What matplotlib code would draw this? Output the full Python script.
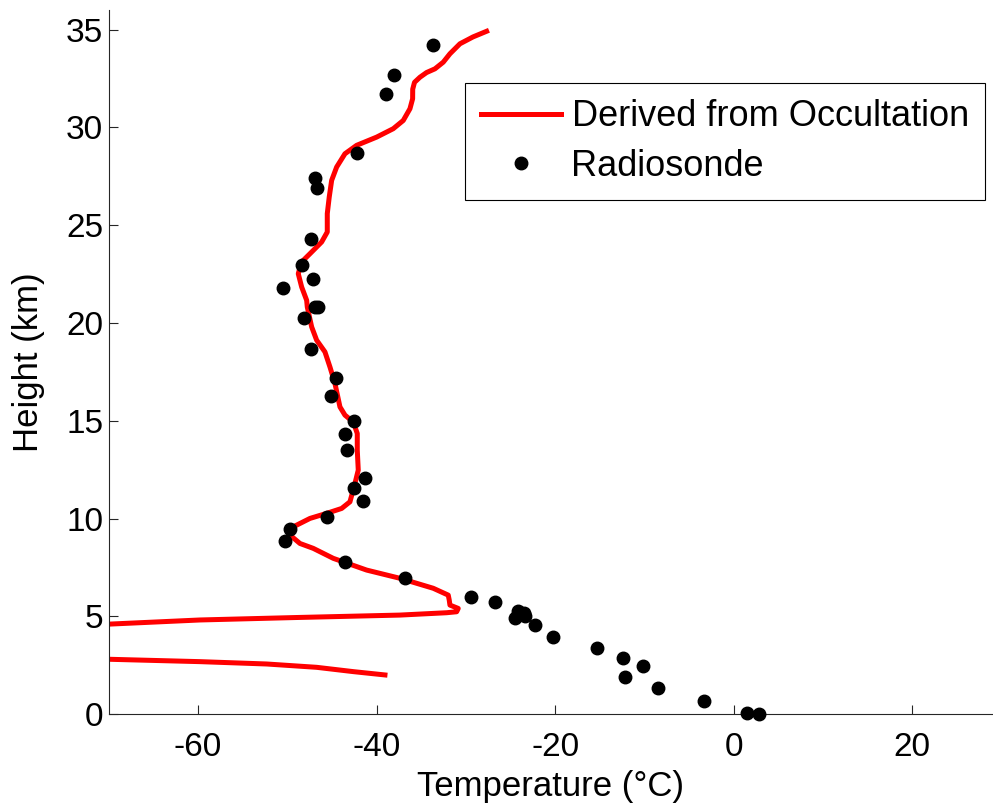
import numpy as np
import matplotlib
matplotlib.use('Agg')
import matplotlib.pyplot as plt

plt.rcParams['font.family'] = ['Liberation Sans', 'DejaVu Sans']
plt.rcParams['axes.unicode_minus'] = False

# Occultation-derived profile (upper part, down to where it leaves the axes)
occ_temp = [-27.67, -29.2, -30.66, -31.78, -32.53, -33.46, -34.4, -35.14, -35.75, -35.95,
            -35.96, -36.26, -37.01, -38.13, -39.99, -42.23, -43.54, -44.47, -45.03, -45.30,
            -45.52, -45.52, -46.15, -47.46, -48.39, -48.77, -48.39, -47.83, -47.76, -47.27,
            -46.71, -45.78, -45.22, -44.66, -44.10, -43.54, -42.61, -42.16, -42.16, -42.05,
            -42.42, -42.98, -43.91, -45.59, -47.46, -49.33, -49.70, -48.58, -47.09, -44.85,
            -41.11, -37.38, -33.65, -31.97, -31.86, -31.78, -30.85, -31.03, -32.15, -37.38,
            -48.58, -59.78, -69.85, -71.0]
occ_height = [34.91, 34.62, 34.27, 33.76, 33.33, 32.99, 32.8, 32.56, 32.3, 31.95,
              31.46, 30.95, 30.35, 29.93, 29.50, 29.08, 28.65, 27.97, 27.29, 26.44,
              25.59, 24.65, 24.14, 23.54, 23.12, 22.52, 21.84, 21.16, 20.82, 19.80,
              19.12, 18.52, 17.75, 16.91, 15.71, 15.29, 14.94, 14.35, 13.50, 12.48,
              11.80, 10.86, 10.52, 10.27, 10.01, 9.58, 9.16, 8.73, 8.48, 7.97,
              7.37, 6.95, 6.44, 6.09, 5.84, 5.58, 5.41, 5.24, 5.19, 5.07,
              4.95, 4.82, 4.61, 4.58]

# lower piece of the occultation profile
occ_low_temp = [-71.0, -69.85, -59.78, -52.31, -46.71, -42.61, -39.06]
occ_low_height = [2.85, 2.81, 2.69, 2.57, 2.40, 2.18, 2.01]

# Radiosonde
rs_temp = [-33.7, -38.05, -38.9, -42.2, -46.9, -46.7, -47.35, -48.3, -47.1, -50.5,
           -46.9, -46.6, -48.1, -47.35, -44.5, -45.1, -42.5, -43.5, -43.3, -41.3,
           -42.5, -41.5, -45.55, -49.7, -50.25, -43.5, -36.8, -29.4, -26.7, -24.2,
           -23.5, -24.5, -23.4, -22.3, -20.2, -15.3, -12.4, -10.2, -12.2, -8.5,
           -3.3, 1.5, 2.8]
rs_height = [34.2, 32.7, 31.7, 28.67, 27.4, 26.9, 24.3, 22.96, 22.25, 21.8,
             20.8, 20.8, 20.25, 18.65, 17.2, 16.26, 15.0, 14.3, 13.5, 12.1,
             11.56, 10.9, 10.08, 9.47, 8.85, 7.78, 6.96, 5.99, 5.74, 5.3,
             5.2, 4.9, 5.0, 4.57, 3.95, 3.4, 2.86, 2.47, 1.92, 1.35,
             0.69, 0.06, 0.0]

fig = plt.figure(figsize=(9.93, 8.08), dpi=100)
ax = fig.add_axes([0.1095, 0.116, 0.8905, 0.8717])

occ_t = occ_temp + [np.nan] + occ_low_temp
occ_h = occ_height + [np.nan] + occ_low_height
ax.plot(occ_t, occ_h, color='#ff0000', lw=3.6, label='Derived from Occultation',
        solid_joinstyle='round')
ax.plot(rs_temp, rs_height, 'o', color='black', ms=9, ls='none', label='Radiosonde',
        clip_on=False, zorder=3)

ax.set_xlim(-70, 29.05)
ax.set_ylim(0, 36)
ax.set_xticks([-60, -40, -20, 0, 20])
ax.set_yticks(np.arange(0, 36, 5))
ax.tick_params(direction='in', length=6.5, width=0.8, labelsize=24, color='#262626')
ax.tick_params(axis='x', pad=13)
ax.tick_params(axis='y', pad=4)
ax.spines['top'].set_visible(False)
ax.spines['right'].set_visible(False)
for s in ['left', 'bottom']:
    ax.spines[s].set_color('#262626')
    ax.spines[s].set_linewidth(0.8)

ax.set_xlabel('Temperature (°C)', fontsize=25, labelpad=5)
ax.set_ylabel('Height (km)', fontsize=25, labelpad=15)

leg = ax.legend(loc='upper right', bbox_to_anchor=(985 / 993, 1 - 83 / 808),
                bbox_transform=fig.transFigure, fontsize=26, fancybox=False,
                framealpha=1, edgecolor='black', handlelength=2.2,
                borderaxespad=0, borderpad=0.45, labelspacing=0.4, handletextpad=0.3)
leg.get_frame().set_linewidth(0.8)

fig.savefig('out.png', dpi=100)
